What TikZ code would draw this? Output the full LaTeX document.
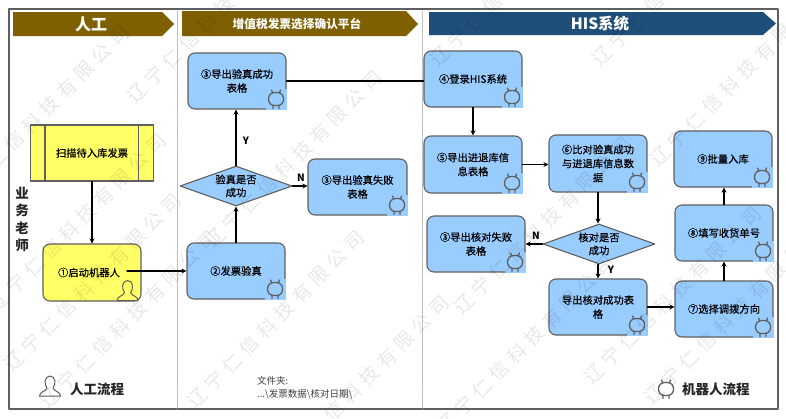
\documentclass[tikz,border=0pt]{standalone}
\usepackage{fontspec}
\setmainfont{Noto Sans CJK SC}
\newfontfamily\markfont[LetterSpace=30]{Noto Sans CJK SC}
\newfontfamily\labelfont[FakeBold=0.5]{Noto Sans CJK SC}
\usetikzlibrary{arrows.meta,calc,shapes.geometric}
\definecolor{flowblue}{HTML}{99CCFF}
\definecolor{flowyellow}{HTML}{FFFF66}
\definecolor{headbrown}{HTML}{7F6000}
\definecolor{headnavy}{HTML}{1F4E79}
\definecolor{edgegray}{HTML}{5F5F5F}
\tikzset{
  every picture/.append style={line cap=round,line join=round},
  flow box/.style={draw=edgegray,line width=1.1pt,fill=flowblue,rounded corners=7pt,
    minimum width=98pt,minimum height=56pt,inner sep=0pt,align=center,font=\fontsize{10.3}{14}\selectfont\labelfont},
  flow man/.style={flow box,fill=flowyellow},
  flow test/.style={draw=edgegray,line width=1.1pt,fill=flowblue,diamond,aspect=2.8,
    minimum width=112pt,minimum height=40pt,inner sep=0pt,align=center,font=\fontsize{10.3}{13}\selectfont\labelfont},
  flow arrow/.style={black,line width=1.5pt,-{Stealth[length=5pt,width=5pt]}},
  flow link/.style={black,line width=1.5pt},
  flow tag/.style={font=\fontsize{10}{10}\selectfont\bfseries,inner sep=0pt},
  head label/.style={text=white,font=\bfseries,inner sep=0pt},
  lane line/.style={gray!60,densely dotted,line width=0.7pt},
  legend text/.style={font=\fontsize{13.5}{13.5}\selectfont\bfseries,text=black!85,inner sep=0pt},
  mark text/.style={text=black,opacity=.09,rotate=45,anchor=west,inner sep=0pt,font=\fontsize{19}{19}\selectfont\markfont},
  robot/.pic={
    \draw[edgegray,line width=1.3pt,rounded corners=2.5pt] (-7.5,-3) -- (-4,-6.5) -- (4,-6.5) -- (7.5,-3) -- (7.5,3) -- (4,6.5) -- (-4,6.5) -- (-7.5,3) -- cycle;
    \draw[edgegray,line width=1.3pt] (-3.5,-6.5) -- (-4.5,-9) (3.5,-6.5) -- (4.5,-9) (-3,6.5) -- (-3,9.5) (3,6.5) -- (3,9.5);
  },
  person/.pic={
    \draw[edgegray,line width=1pt] (-10.5,10) .. controls (-10.5,5.5) and (-4,5.5) .. (-3,2)
      .. controls (-6,-1) and (-6,-10) .. (0,-10) .. controls (6,-10) and (6,-1) .. (3,2)
      .. controls (4,5.5) and (10.5,5.5) .. (10.5,10) -- cycle;
  }
}
\begin{document}
\begin{tikzpicture}[x=1pt,y=-1pt]
  \useasboundingbox (0,0) rectangle (786,418);
  \fill[white] (0,0) rectangle (786,418);
  \draw[edgegray,line width=1.4pt] (9,9) rectangle (778,409);
  \draw[lane line] (177,11) -- (177,409);
  \draw[lane line] (422,11) -- (422,409);
  % lane headers
  \fill[headbrown] (13,12) -- (162,12) -- (174,24) -- (162,36) -- (13,36) -- cycle;
  \fill[headbrown] (182,11) -- (406,11) -- (418,24) -- (406,36) -- (182,36) -- cycle;
  \fill[headnavy] (429,12) -- (763,12) -- (776,23.5) -- (763,35) -- (429,35) -- cycle;
  \node[head label,font=\fontsize{16}{16}\selectfont\bfseries] (manhead) at (91,24) {人工};
  \node[head label,font=\fontsize{11.7}{12}\selectfont\bfseries] (platformhead) at (297,24) {增值税发票选择确认平台};
  \node[head label,font=\fontsize{15.5}{16}\selectfont\bfseries] (hishead) at (600,23.5) {HIS系统};
  % manual lane
  \node[flow man,rounded corners=0pt,minimum width=123pt,minimum height=56pt] (scan) at (92,153) {扫描待入库发票};
  \draw[edgegray,line width=1.1pt] ($(scan.north west)+(15,0)$) -- ($(scan.south west)+(15,0)$)
    ($(scan.north east)+(-16,0)$) -- ($(scan.south east)+(-16,0)$);
  \node[flow man,minimum height=57pt] (start) at (92,272.5) {\hspace*{-3pt}①启动机器人\hspace*{3pt}};
  \node[inner sep=0pt,font=\fontsize{13.5}{17.5}\selectfont\bfseries,align=center,text=black!85] (teacher) at (22,219.5) {业\\务\\老\\师};
  % platform lane
  \node[flow box] (verify) at (236,271) {②发票验真};
  \node[flow test] (verifyok) at (236,186) {验真是否\\成功};
  \node[flow box] (okfile) at (237,81) {③导出验真成功\\表格};
  \node[flow box,minimum width=99pt] (badfile) at (357.5,187) {③导出验真失败\\表格};
  % HIS lane
  \node[flow box] (login) at (473,79) {④登录HIS系统};
  \node[flow box,minimum height=57pt] (stock) at (473,164.5) {⑤导出进退库信\\息表格};
  \node[flow box,minimum height=57pt] (compare) at (598,163.5) {⑥比对验真成功\\与进退库信息数\\据};
  \node[flow test] (compareok) at (599,244) {核对是否\\成功};
  \node[flow box] (compbad) at (476,244) {③导出核对失败\\表格};
  \node[flow box] (compgood) at (598,307) {导出核对成功表\\格};
  \node[flow box] (direction) at (724,309) {⑦选择调拨方向};
  \node[flow box] (receipt) at (724,233) {⑧填写收货单号};
  \node[flow box] (batch) at (723,159) {⑨批量入库};
  % icons in the box corners
  \foreach \n in {verify,okfile,badfile,login,stock,compare,compbad,compgood,direction,receipt,batch}{
    \fill[flowblue] ($(\n.south east)+(-21,-21)$) rectangle (\n.south east);
    \pic at ($(\n.south east)+(-10.5,-10.5)$) {robot};
  }
  \pic at ($(start.south east)+(-14,-11)$) {person};
  % connectors
  \draw[flow arrow] (scan) -- (start);
  \coordinate (startout) at (127,271);
  \draw[flow arrow] (startout) -- (startout -| verify.west);
  \draw[flow arrow] (verify) -- (verifyok);
  \draw[flow arrow] (verifyok) -- node[flow tag,right=6pt,pos=.45] (yesone) {Y} (verifyok |- okfile.south);
  \draw[flow arrow] (verifyok) -- (verifyok -| badfile.west);
  \node[flow tag] (noone) at (301,178) {N};
  \draw[flow link] (okfile.east) -- (okfile.east -| login.west);
  \draw[flow arrow] (login) -- (stock);
  \draw[flow arrow] (stock) -- (stock -| compare.west);
  \draw[flow arrow] (compare) -- (compare |- compareok.north);
  \draw[flow arrow] (compareok) -- (compbad);
  \node[flow tag] (notwo) at (536,236) {N};
  \draw[flow arrow] (compareok.south -| compgood) -- (compgood);
  \node[flow tag] (yestwo) at (611,270) {Y};
  \draw[flow arrow] (compgood) -- (compgood -| direction.west);
  \draw[flow arrow] (direction) -- (receipt);
  \draw[flow arrow] (receipt.north -| direction) -- (batch.south -| direction);
  % legend
  \pic at (50,386) {person};
  \pic at (666,389) {robot};
  \node[legend text,anchor=west] (manlegend) at (70,389) {人工流程};
  \node[legend text,anchor=west] (botlegend) at (682,389) {机器人流程};
  \node[anchor=west,align=left,inner sep=0pt,text=black!75,font=\fontsize{9.5}{13}\selectfont] (folder) at (257,387.5) {文件夹:\\...\textbackslash 发票数据\textbackslash 核对日期\textbackslash};
  % watermark
  \foreach \x/\y in {130/100,433/63,595/63,457/311,587/381,190/405,7/368,43/405,-45/200,-8/308,208/245,653/163,440/430,647/401,275/470}
    \node[mark text] at (\x,\y) {辽宁仁信科技有限公司};
\end{tikzpicture}
\end{document}
